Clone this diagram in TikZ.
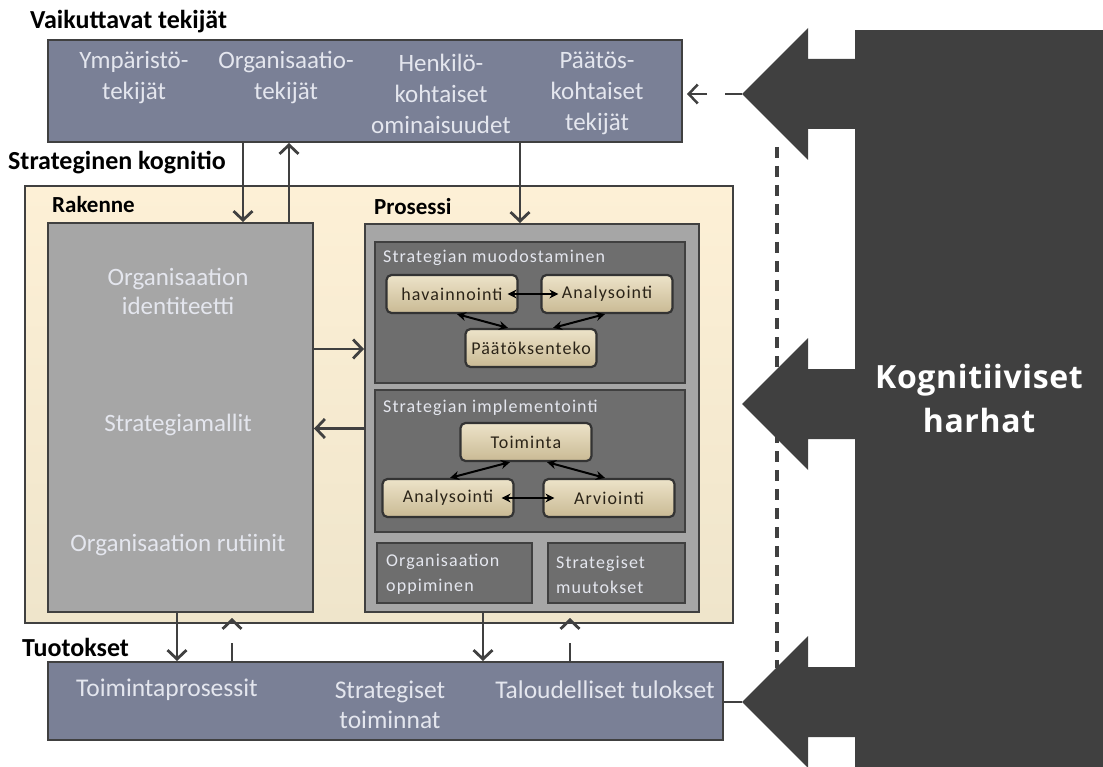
\documentclass[tikz,border=0pt]{standalone}
\usepackage{fontspec}
\setmainfont{Carlito}
\newfontfamily\spacedfont[LetterSpace=6]{Carlito}
\newfontfamily\harhafont[LetterSpace=2]{Open Sans}
\usetikzlibrary{arrows.meta}
\definecolor{slate}{HTML}{7A8096}
\definecolor{ink}{HTML}{404040}
\definecolor{rakgray}{HTML}{A6A6A6}
\definecolor{innergray}{HTML}{6E6E6E}
\definecolor{creamtop}{HTML}{FDF0D6}
\definecolor{creambot}{HTML}{EFE5CB}
\definecolor{tantop}{HTML}{EDE3C9}
\definecolor{tanbot}{HTML}{C9BA94}
\definecolor{tantext}{HTML}{2B2418}
\definecolor{paletext}{HTML}{E4E6EE}

\begin{document}
\begin{tikzpicture}
        [x=1pt,y=-1pt,
        box/.style={draw=ink,line width=2pt,inner sep=0pt},
        slatebox/.style={box,fill=slate},
        graybox/.style={box,fill=rakgray},
        innerbox/.style={box,fill=innergray},
        cream/.style={box,top color=creamtop,bottom color=creambot},
        title/.style={anchor=west,inner sep=0pt,font=\bfseries\fontsize{26}{28}\selectfont,text=black},
        subtitle/.style={title,font=\bfseries\fontsize{23}{25}\selectfont},
        pale/.style={align=center,inner sep=0pt,text=paletext,font=\fontsize{25}{31}\selectfont},
        small/.style={anchor=west,align=left,inner sep=0pt,text=paletext,font=\spacedfont\fontsize{18}{25}\selectfont},
        tan/.style={draw=ink!80!black,line width=2.2pt,rounded corners=5pt,top color=tantop,bottom color=tanbot,
            minimum width=131pt,minimum height=38pt,inner sep=0pt,text=tantext,font=\spacedfont\fontsize{18}{20}\selectfont},
        arr/.style={draw=ink,line width=2.8pt,-{Straight Barb[length=9pt,width=19pt]}},
        dasharr/.style={arr,dash pattern=on 18pt off 20pt,shorten >=5pt},
        twoway/.style={draw=black,line width=2pt,{Stealth[length=9pt,width=9pt]}-{Stealth[length=9pt,width=9pt]}}]
        \useasboundingbox (0,0) rectangle (1103,767);

        % titles
        \node[title] (t1) at (30,22) {Vaikuttavat tekijät};
        \node[title] (t2) at (8,163) {Strateginen kognitio};
        \node[title] (t3) at (22,647) {Tuotokset};

        % strateginen kognitio
        \node[cream,minimum width=708pt,minimum height=437pt] (kog) at (379,404.5) {};
        \node[subtitle] (t4) at (52,205) {Rakenne};
        \node[subtitle] (t5) at (374,207) {Prosessi};
        \node[graybox,minimum width=265pt,minimum height=389pt] (rak) at (180.5,417.5) {};
        \node[graybox,minimum width=334pt,minimum height=388pt] (pros) at (532,418) {};
        \node[innerbox,minimum width=310pt,minimum height=141pt] (muod) at (530,312.5) {};
        \node[innerbox,minimum width=310pt,minimum height=142pt] (impl) at (530,461) {};
        \node[innerbox,minimum width=155pt,minimum height=60pt] (opp) at (454.5,573) {};
        \node[innerbox,minimum width=137pt,minimum height=60pt] (muut) at (616.5,573) {};

        \node[pale,font=\fontsize{25}{29}\selectfont] (ident) at (178,291.5) {Organisaation\\identiteetti};
        \node[pale,font=\fontsize{25}{29}\selectfont] (malli) at (178,425) {Strategiamallit};
        \node[pale,font=\fontsize{25}{29}\selectfont] (rut) at (178,545) {Organisaation rutiinit};

        \node[small] (muodt) at (383,258) {Strategian muodostaminen};
        \node[small] (implt) at (383,408) {Strategian implementointi};
        \node[small] (oppt) at (386,574.5) {Organisaation\\oppiminen};
        \node[small] (muutt) at (556,574.5) {Strategiset\\muutokset};

        \node[tan] (hav) at (452,294) {havainnointi};
        \node[tan] (anal1) at (607,294) {Analysointi};
        \node[tan] (paat) at (531,348) {Päätöksenteko};
        \node[tan] (toim) at (526,442) {Toiminta};
        \node[tan] (anal2) at (448,498) {Analysointi};
        \node[tan] (arv) at (609,498) {Arviointi};

        \draw[twoway] ([xshift=-11pt]hav.east) -- ([xshift=18pt]anal1.west);
        \draw[twoway] ([xshift=5pt]hav.south) -- ([xshift=-23pt]paat.north);
        \draw[twoway] ([xshift=-2pt]anal1.south) -- ([xshift=22pt]paat.north);
        \draw[twoway] ([xshift=-16pt]toim.south) -- ([xshift=2pt]anal2.north);
        \draw[twoway] ([xshift=21pt]toim.south) -- ([xshift=-4pt]arv.north);
        \draw[twoway] ([xshift=-13pt]anal2.east) -- ([xshift=12pt]arv.west);

        % vaikuttavat tekijat
        \node[slatebox,minimum width=634pt,minimum height=102pt] (vaik) at (365,91) {};
        \node[pale] (ymp) at (134,77.5) {Ympäristö-\\tekijät};
        \node[pale] (orga) at (286,77.5) {Organisaatio-\\tekijät};
        \node[pale] (henk) at (441,93.5) {Henkilö-\\kohtaiset\\ominaisuudet};
        \node[pale] (paatos) at (597,93.5) {Päätös-\\kohtaiset\\tekijät};

        % tuotokset
        \node[slatebox,minimum width=675pt,minimum height=78pt] (tuot) at (385.5,701) {};
        \node[pale,font=\fontsize{25.5}{30}\selectfont] (tpros) at (167,690) {Toimintaprosessit};
        \node[pale,font=\fontsize{25.5}{30}\selectfont] (stoim) at (390,705) {Strategiset\\toiminnat};
        \node[pale,font=\fontsize{25.5}{30}\selectfont] (talo) at (605,690) {Taloudelliset tulokset};

        % connectors
        \draw[arr] ([xshift=62.5pt]rak.north |- vaik.south) -- ([xshift=62.5pt]rak.north);
        \draw[arr] ([xshift=108.5pt]rak.north) -- ([xshift=108.5pt]rak.north |- vaik.south);
        \draw[arr] ([xshift=-12pt]pros.north |- vaik.south) -- ([xshift=-12pt]pros.north);
        \draw[arr] ([yshift=68.5pt]rak.east) -- ([yshift=68.5pt]rak.east -| pros.west);
        \draw[arr] ([yshift=-10.5pt]pros.west) -- ([yshift=-10.5pt]pros.west -| rak.east);
        \draw[arr] ([xshift=-3.5pt]rak.south) -- ([xshift=-3.5pt]rak.south |- tuot.north);
        \draw[dasharr] ([xshift=51.5pt]rak.south |- tuot.north) -- ([xshift=51.5pt]rak.south);
        \draw[arr] ([xshift=-49pt]pros.south) -- ([xshift=-49pt]pros.south |- tuot.north);
        \draw[dasharr] ([xshift=38pt]pros.south |- tuot.north) -- ([xshift=38pt]pros.south);

        % kognitiiviset harhat
        \draw[ink,line width=3.5pt,dash pattern=on 11pt off 8pt] (777,147) -- (777,668);
        \foreach \y/\n in {94/1,404/2,702/3}
            \fill[ink] (856,\y-35) -- (808,\y-35) -- (808,\y-66) -- (742,\y) coordinate (tip\n)
                -- (808,\y+66) -- (808,\y+35) -- (856,\y+35) -- cycle;
        \node[fill=ink,minimum width=248pt,minimum height=737pt,inner sep=0pt,align=center,text=white,
            font=\harhafont\bfseries\fontsize{32}{44}\selectfont] (harhat) at (979,398.5) {Kognitiiviset\\harhat};
        \draw[arr,line width=2.5pt,dash pattern=on 17pt off 18pt,shorten >=4pt] (tip1) -- (vaik.east |- tip1);
        \draw[ink,line width=2.5pt] (tuot.east |- tip3) -- (tip3);
\end{tikzpicture}
\end{document}
